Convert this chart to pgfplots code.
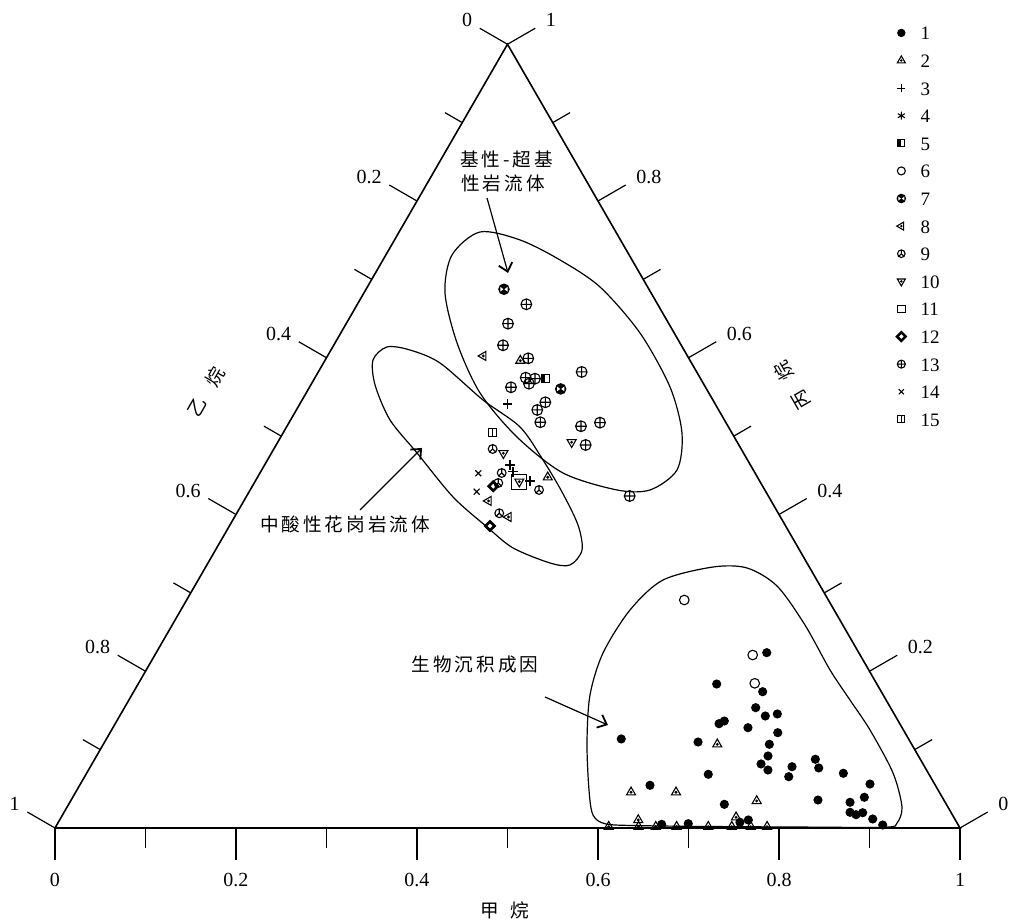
\documentclass[border=0pt]{standalone}
\usepackage{fontspec}
\setmainfont{Liberation Serif}
\newfontfamily\cjk{Noto Sans CJK SC}[LetterSpace=16]
\usepackage{pgfplots}
\pgfplotsset{compat=1.18}
\usetikzlibrary{arrows.meta}

% plot marks for the legend groups
\pgfdeclareplotmark{tri-u}{%
  \pgfpathmoveto{\pgfpointpolar{90}{\pgfplotmarksize}}%
  \pgfpathlineto{\pgfpointpolar{210}{\pgfplotmarksize}}%
  \pgfpathlineto{\pgfpointpolar{330}{\pgfplotmarksize}}%
  \pgfpathclose\pgfusepathqstroke
  \pgfpathcircle{\pgfpointorigin}{0.3\pgfplotmarksize}\pgfusepathqfill}
\pgfdeclareplotmark{tri-l}{%
  \pgfpathmoveto{\pgfpointpolar{180}{\pgfplotmarksize}}%
  \pgfpathlineto{\pgfpointpolar{300}{\pgfplotmarksize}}%
  \pgfpathlineto{\pgfpointpolar{60}{\pgfplotmarksize}}%
  \pgfpathclose\pgfusepathqstroke
  \pgfpathcircle{\pgfpointorigin}{0.3\pgfplotmarksize}\pgfusepathqfill}
\pgfdeclareplotmark{tri-d}{%
  \pgfpathmoveto{\pgfpointpolar{270}{\pgfplotmarksize}}%
  \pgfpathlineto{\pgfpointpolar{30}{\pgfplotmarksize}}%
  \pgfpathlineto{\pgfpointpolar{150}{\pgfplotmarksize}}%
  \pgfpathclose\pgfusepathqstroke
  \pgfpathcircle{\pgfpointorigin}{0.3\pgfplotmarksize}\pgfusepathqfill}
\pgfdeclareplotmark{halfsq}{%
  \pgfpathrectanglecorners{\pgfpoint{-\pgfplotmarksize}{-\pgfplotmarksize}}{\pgfpoint{0pt}{\pgfplotmarksize}}\pgfusepathqfill
  \pgfpathrectanglecorners{\pgfpoint{-\pgfplotmarksize}{-\pgfplotmarksize}}{\pgfpoint{\pgfplotmarksize}{\pgfplotmarksize}}\pgfusepathqstroke}
\pgfdeclareplotmark{bowdisk}{%
  \pgfpathcircle{\pgfpointorigin}{\pgfplotmarksize}\pgfusepathqfillstroke
  \begin{pgfscope}\pgfsetfillcolor{white}%
  \pgfpathmoveto{\pgfpoint{-0.7\pgfplotmarksize}{0.45\pgfplotmarksize}}%
  \pgfpathlineto{\pgfpoint{-0.7\pgfplotmarksize}{-0.45\pgfplotmarksize}}%
  \pgfpathlineto{\pgfpoint{-0.1\pgfplotmarksize}{0pt}}\pgfpathclose
  \pgfpathmoveto{\pgfpoint{0.7\pgfplotmarksize}{0.45\pgfplotmarksize}}%
  \pgfpathlineto{\pgfpoint{0.7\pgfplotmarksize}{-0.45\pgfplotmarksize}}%
  \pgfpathlineto{\pgfpoint{0.1\pgfplotmarksize}{0pt}}\pgfpathclose
  \pgfusepathqfill\end{pgfscope}}
\pgfdeclareplotmark{peace}{%
  \pgfpathcircle{\pgfpointorigin}{\pgfplotmarksize}%
  \pgfpathmoveto{\pgfpointorigin}\pgfpathlineto{\pgfpointpolar{90}{\pgfplotmarksize}}%
  \pgfpathmoveto{\pgfpointorigin}\pgfpathlineto{\pgfpointpolar{225}{\pgfplotmarksize}}%
  \pgfpathmoveto{\pgfpointorigin}\pgfpathlineto{\pgfpointpolar{315}{\pgfplotmarksize}}%
  \pgfusepathqstroke}
\pgfdeclareplotmark{dia-ring}{%
  \pgfpathmoveto{\pgfpoint{0pt}{1.4\pgfplotmarksize}}%
  \pgfpathlineto{\pgfpoint{1.4\pgfplotmarksize}{0pt}}%
  \pgfpathlineto{\pgfpoint{0pt}{-1.4\pgfplotmarksize}}%
  \pgfpathlineto{\pgfpoint{-1.4\pgfplotmarksize}{0pt}}\pgfpathclose
  \pgfpathmoveto{\pgfpoint{0pt}{0.85\pgfplotmarksize}}%
  \pgfpathlineto{\pgfpoint{0.85\pgfplotmarksize}{0pt}}%
  \pgfpathlineto{\pgfpoint{0pt}{-0.85\pgfplotmarksize}}%
  \pgfpathlineto{\pgfpoint{-0.85\pgfplotmarksize}{0pt}}\pgfpathclose
  \pgfseteorule\pgfusepathqfillstroke}
\pgfdeclareplotmark{sq-v}{%
  \pgfpathrectanglecorners{\pgfpoint{-\pgfplotmarksize}{-\pgfplotmarksize}}{\pgfpoint{\pgfplotmarksize}{\pgfplotmarksize}}%
  \pgfpathmoveto{\pgfpoint{0pt}{-\pgfplotmarksize}}%
  \pgfpathlineto{\pgfpoint{0pt}{\pgfplotmarksize}}%
  \pgfusepathqstroke}

\tikzset{
  mk/.style={only marks, line width=0.55pt, draw=black},
  s1/.style={mk, mark=*, mark size=2pt, mark options={fill=black}},
  s2/.style={mk, mark=tri-u, mark size=2.6pt, mark options={fill=black}},
  s3/.style={mk, mark=+, mark size=2.4pt},
  s4/.style={mk, mark=asterisk, mark size=2.2pt},
  s5/.style={mk, mark=halfsq, mark size=2pt, mark options={fill=black}},
  s6/.style={mk, mark=o, mark size=2.4pt},
  s7/.style={mk, mark=bowdisk, mark size=2.6pt, mark options={fill=black}},
  s8/.style={mk, mark=tri-l, mark size=2.6pt, mark options={fill=black}},
  s9/.style={mk, mark=peace, mark size=2.2pt},
  s10/.style={mk, mark=tri-d, mark size=2.6pt, mark options={fill=black}},
  s11/.style={mk, mark=square, mark size=3.8pt},
  s12/.style={mk, mark=dia-ring, mark size=2pt, mark options={fill=black}},
  s13/.style={mk, mark=oplus, mark size=2.7pt},
  s14/.style={mk, mark=x, mark size=2.1pt},
  s15/.style={mk, mark=sq-v, mark size=2pt},
  tk/.style={line width=0.6pt},
  lab/.style={font=\fontsize{10}{12}\selectfont, inner sep=0pt},
  lft/.style={lab, anchor=east, xshift=-17.5pt, yshift=12pt},
  rgt/.style={lab, anchor=west, xshift=19pt, yshift=12pt},
  bot/.style={lab, yshift=-26pt},
  cn/.style={font=\cjk\fontsize{9.3}{11}\selectfont, inner sep=0pt},
  ar/.style={line width=0.6pt, -{Straight Barb[length=4pt,width=7pt,line width=0.9pt]}},
}

\begin{document}
\begin{tikzpicture}
\useasboundingbox (-27.5pt,-47pt) rectangle (479.5pt,414pt);
% x = CH4 fraction, y = C3H8 fraction; C2H6 = 1 - x - y
\begin{axis}[
  at={(0,0)}, anchor=origin,
  x={(452.5pt,0pt)}, y={(226.25pt,391.87pt)},
  xmin=0, xmax=0.1, ymin=0, ymax=0.1,
  hide axis, clip=false,
  legend image code/.code={\draw[#1] plot coordinates {(0pt,0pt)};},
  legend cell align=left,
  legend style={draw=none, fill=none, at={(axis cs:0.4176,1.0234)}, anchor=north west,
    inner sep=0pt, outer sep=0pt, row sep=6.8pt, column sep=7pt,
    nodes={inner sep=0pt, text height=7pt, text depth=0pt, font=\fontsize{9.5}{10}\selectfont}},
]
\addlegendimage{s1, mark size=1.8pt}\addlegendentry{1}
\addlegendimage{s2, mark size=2.3pt}\addlegendentry{2}
\addlegendimage{s3, mark size=2pt}\addlegendentry{3}
\addlegendimage{s4, mark size=2pt}\addlegendentry{4}
\addlegendimage{s5, mark size=1.8pt}\addlegendentry{5}
\addlegendimage{s6, mark size=2pt}\addlegendentry{6}
\addlegendimage{s7, mark size=2.1pt}\addlegendentry{7}
\addlegendimage{s8, mark size=2.3pt}\addlegendentry{8}
\addlegendimage{s9, mark size=1.9pt}\addlegendentry{9}
\addlegendimage{s10, mark size=2.3pt}\addlegendentry{10}
\addlegendimage{s11, mark size=1.9pt}\addlegendentry{11}
\addlegendimage{s12, mark size=1.9pt}\addlegendentry{12}
\addlegendimage{s13, mark size=2pt}\addlegendentry{13}
\addlegendimage{s14, mark size=1.8pt}\addlegendentry{14}
\addlegendimage{s15, mark size=1.8pt}\addlegendentry{15}

% triangle frame
\addplot[forget plot, line width=0.8pt, mark=none] coordinates {(0,0) (1,0) (0,1) (0,0)};

% ticks
\draw[tk] (axis cs:0,0) -- ++(270:16pt);   \draw[tk] (axis cs:0.1,0) -- ++(270:10pt);
\draw[tk] (axis cs:0.2,0) -- ++(270:16pt); \draw[tk] (axis cs:0.3,0) -- ++(270:10pt);
\draw[tk] (axis cs:0.4,0) -- ++(270:16pt); \draw[tk] (axis cs:0.5,0) -- ++(270:10pt);
\draw[tk] (axis cs:0.6,0) -- ++(270:16pt); \draw[tk] (axis cs:0.7,0) -- ++(270:10pt);
\draw[tk] (axis cs:0.8,0) -- ++(270:16pt); \draw[tk] (axis cs:0.9,0) -- ++(270:10pt);
\draw[tk] (axis cs:1,0) -- ++(270:16pt);
\draw[tk] (axis cs:0,1) -- ++(150:16pt);   \draw[tk] (axis cs:0,0.9) -- ++(150:10pt);
\draw[tk] (axis cs:0,0.8) -- ++(150:16pt); \draw[tk] (axis cs:0,0.7) -- ++(150:10pt);
\draw[tk] (axis cs:0,0.6) -- ++(150:16pt); \draw[tk] (axis cs:0,0.5) -- ++(150:10pt);
\draw[tk] (axis cs:0,0.4) -- ++(150:16pt); \draw[tk] (axis cs:0,0.3) -- ++(150:10pt);
\draw[tk] (axis cs:0,0.2) -- ++(150:16pt); \draw[tk] (axis cs:0,0.1) -- ++(150:10pt);
\draw[tk] (axis cs:0,0) -- ++(150:16pt);
\draw[tk] (axis cs:0,1) -- ++(30:16pt);     \draw[tk] (axis cs:0.1,0.9) -- ++(30:10pt);
\draw[tk] (axis cs:0.2,0.8) -- ++(30:16pt); \draw[tk] (axis cs:0.3,0.7) -- ++(30:10pt);
\draw[tk] (axis cs:0.4,0.6) -- ++(30:16pt); \draw[tk] (axis cs:0.5,0.5) -- ++(30:10pt);
\draw[tk] (axis cs:0.6,0.4) -- ++(30:16pt); \draw[tk] (axis cs:0.7,0.3) -- ++(30:10pt);
\draw[tk] (axis cs:0.8,0.2) -- ++(30:16pt); \draw[tk] (axis cs:0.9,0.1) -- ++(30:10pt);
\draw[tk] (axis cs:1,0) -- ++(30:16pt);

% tick labels
\node[bot] at (axis cs:0,0) {0};     \node[bot] at (axis cs:0.2,0) {0.2};
\node[bot] at (axis cs:0.4,0) {0.4}; \node[bot] at (axis cs:0.6,0) {0.6};
\node[bot] at (axis cs:0.8,0) {0.8}; \node[bot] at (axis cs:1,0) {1};
\node[lft] at (axis cs:0,1) {0};     \node[lft] at (axis cs:0,0.8) {0.2};
\node[lft] at (axis cs:0,0.6) {0.4}; \node[lft] at (axis cs:0,0.4) {0.6};
\node[lft] at (axis cs:0,0.2) {0.8}; \node[lft] at (axis cs:0,0) {1};
\node[rgt] at (axis cs:0,1) {1};         \node[rgt] at (axis cs:0.2,0.8) {0.8};
\node[rgt] at (axis cs:0.4,0.6) {0.6};   \node[rgt] at (axis cs:0.6,0.4) {0.4};
\node[rgt] at (axis cs:0.8,0.2) {0.2};   \node[rgt] at (axis cs:1,0) {0};

% axis titles
\node[cn] at (axis cs:0.5495,-0.1046) {甲\hspace{6pt}烷};
\node[cn, rotate=60] at (axis cs:-0.1116,0.5570) {乙\hspace{8pt}烷};
\node[cn, rotate=120] at (axis cs:0.5326,0.5646) {丙\hspace{8pt}烷};

% field outlines
\addplot[forget plot, line width=0.6pt, mark=none, smooth cycle] coordinates {
  (0.0894,0.7605) (0.1387,0.7503) (0.1956,0.7248) (0.2571,0.6903) (0.3306,0.6316)
  (0.3982,0.5627) (0.4408,0.5040) (0.4589,0.4568) (0.4418,0.4313) (0.4053,0.4313)
  (0.3348,0.4530) (0.2610,0.4989) (0.1921,0.5551) (0.1348,0.6189) (0.0896,0.6827)
  (0.0731,0.7311)};
\addplot[forget plot, line width=0.6pt, mark=none, smooth cycle] coordinates {
  (0.0600,0.6138) (0.0873,0.6099) (0.1288,0.5933) (0.1999,0.5461) (0.2580,0.5117)
  (0.3044,0.4696) (0.3459,0.4287) (0.3846,0.3866) (0.4050,0.3547) (0.4013,0.3356)
  (0.3780,0.3381) (0.3275,0.3573) (0.2853,0.3841) (0.2286,0.4224) (0.1608,0.4785)
  (0.1099,0.5206) (0.0710,0.5653) (0.0528,0.5972)};
\addplot[forget plot, line width=0.6pt, mark=none, smooth cycle] coordinates {
  (0.6063,0.0051) (0.5862,0.0166) (0.5658,0.0485) (0.5336,0.1085) (0.5063,0.1697)
  (0.4939,0.2233) (0.4963,0.2782) (0.5136,0.3164) (0.5606,0.3330) (0.5987,0.3318)
  (0.6434,0.3088) (0.6992,0.2590) (0.7556,0.2016) (0.7968,0.1633) (0.8381,0.1250)
  (0.8909,0.0702) (0.9225,0.0268) (0.9272,0.0064) (0.9171,0.0010) (0.8232,0.0012)
  (0.7127,0.0020) (0.6464,0.0030)};

% field labels and arrows
\node[cn, anchor=west] at (axis cs:0.0213,0.8524) {基性-超基};
\node[cn, anchor=west] at (axis cs:0.0371,0.8230) {性岩流体};
\draw[ar] (axis cs:0.0754,0.8039) -- (axis cs:0.1465,0.7082);
\node[cn] at (axis cs:0.1265,0.3879) {中酸性花岗岩流体};
\draw[ar] (axis cs:0.1341,0.4058) -- (axis cs:0.1631,0.4849);
\node[cn] at (axis cs:0.3601,0.2080) {生物沉积成因};
\draw[ar] (axis cs:0.4578,0.1672) -- (axis cs:0.5453,0.1314);

% samples
\addplot[s1, forget plot] coordinates {
  (0.6746,0.2237) (0.6393,0.1837) (0.6950,0.1739) (0.6975,0.1535) (0.7134,0.1429)
  (0.7254,0.1455) (0.6713,0.1365) (0.6672,0.1331) (0.7017,0.1280) (0.7378,0.1216)
  (0.5689,0.1136) (0.6557,0.1097) (0.7359,0.1068) (0.7419,0.0919) (0.7393,0.0817)
  (0.7508,0.0740) (0.7753,0.0782) (0.7780,0.0655) (0.7963,0.0877) (0.8056,0.0766)
  (0.8362,0.0698) (0.8725,0.0561) (0.6876,0.0685) (0.6302,0.0545) (0.8252,0.0357)
  (0.8747,0.0392) (0.8621,0.0328) (0.8685,0.0200) (0.8766,0.0170) (0.8827,0.0195)
  (0.8978,0.0115) (0.9127,0.0038) (0.7245,0.0302) (0.7610,0.0102) (0.7532,0.0073)
  (0.6680,0.0047) (0.6970,0.0055)};
\addplot[s2, forget plot] coordinates {
  (0.2160,0.5963) (0.3207,0.4475) (0.6784,0.1068) (0.6137,0.0456) (0.6634,0.0456)
  (0.7581,0.0345) (0.7457,0.0137) (0.6394,0.0102) (0.611,0.0017) (0.644,0.0017)
  (0.663,0.0017) (0.686,0.0017) (0.721,0.0017) (0.747,0.0017) (0.768,0.0017)
  (0.786,0.0017)};
\addplot[s3, forget plot] coordinates {(0.2293,0.5410) (0.2712,0.4632) (0.2789,0.4543) (0.3035,0.4428)};
\addplot[s5, forget plot] coordinates {(0.2551,0.5733)};
\addplot[s6, forget plot] coordinates {(0.5499,0.2909) (0.6606,0.2207) (0.6809,0.1846)};
\addplot[s7, forget plot] coordinates {(0.1524,0.6874) (0.2787,0.5602)};
\addplot[s8, forget plot] coordinates {(0.1721,0.6023) (0.2704,0.4173) (0.3027,0.3968)};
\addplot[s9, forget plot] coordinates {(0.2418,0.4836) (0.2671,0.4530) (0.2697,0.4402) (0.3192,0.4313) (0.2901,0.4016)};
\addplot[s10, forget plot] coordinates {(0.2564,0.4781) (0.3248,0.4922) (0.2921,0.4419)};
\addplot[s11, forget plot] coordinates {(0.2921,0.4419)};
\addplot[s12, forget plot] coordinates {(0.2663,0.4360) (0.2880,0.3853)};
\addplot[s13, forget plot] coordinates {
  (0.1867,0.6682) (0.1788,0.6435) (0.1871,0.6159) (0.2233,0.5993) (0.2910,0.5819)
  (0.2328,0.5746) (0.2437,0.5733) (0.2403,0.5669) (0.2227,0.5623) (0.2702,0.5432)
  (0.2662,0.5334) (0.2774,0.5177) (0.3249,0.5126) (0.3436,0.5172) (0.3420,0.4887)
  (0.4232,0.4236)};
\addplot[s14, forget plot] coordinates {(0.2414,0.4526) (0.2514,0.4291)};
\addplot[s15, forget plot] coordinates {(0.2307,0.5049)};
\end{axis}
\end{tikzpicture}
\end{document}
